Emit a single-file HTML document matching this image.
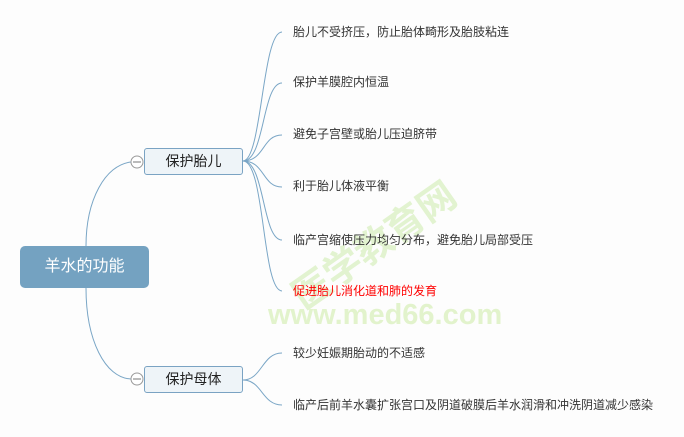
<!DOCTYPE html>
<html><head><meta charset="utf-8"><style>
body{margin:0;width:684px;height:437px;background:#fdfdfd;position:relative;overflow:hidden;font-family:"Liberation Sans","Noto Sans CJK SC",sans-serif;}
.t{position:absolute;font-size:12px;color:#333;white-space:nowrap;line-height:14px;}
.box{position:absolute;background:#eef4f8;border:1px solid #7aa3c3;border-radius:3px;font-size:14px;color:#222;text-align:center;}
</style></head><body>
<svg width="684" height="437" style="position:absolute;left:0;top:0">
<text x="262" y="262" transform="rotate(-35 360 220)" font-size="38" font-weight="bold" fill="#e2f3d0" font-family="Noto Sans CJK SC,sans-serif">医学教育网</text>
<text x="268" y="324" font-size="29" font-weight="bold" fill="#e2f3cc" font-family="Liberation Sans,sans-serif">www.med66.com</text>
<g fill="none" stroke="#7aa6c6" stroke-width="1">
<path d="M86,246 C86,200 105,165 131,162"/>
<path d="M86,288 C86,340 105,378 131,379"/>
<path d="M243,161 C262,161 262,32 282,32"/>
<path d="M243,161 C265,161 262,83 282,83"/>
<path d="M243,161 C265,161 262,135 282,135"/>
<path d="M243,161 C265,161 262,187 282,187"/>
<path d="M243,161 C265,161 262,240 282,240"/>
<path d="M243,161 C265,161 262,291 282,291"/>
<path d="M243,380 C262,380 262,353 282,353"/>
<path d="M243,380 C262,380 262,405 282,405"/>
</g>
<g fill="#fff" stroke="#999">
<circle cx="137" cy="162" r="6"/><circle cx="137" cy="379" r="6"/>
</g>
<line x1="133" y1="162" x2="141" y2="162" stroke="#777"/>
<line x1="133" y1="379" x2="141" y2="379" stroke="#777"/>
</svg>
<div style="position:absolute;left:20px;top:246px;width:129px;height:42px;background:#74a2c1;border-radius:5px;color:#fff;font-size:16px;line-height:42px;text-align:center">羊水的功能</div>
<div class="box" style="left:144px;top:148px;width:97px;height:25px;line-height:25px">保护胎儿</div>
<div class="box" style="left:144px;top:366px;width:97px;height:25px;line-height:25px">保护母体</div>
<div class="t" style="left:293px;top:25px">胎儿不受挤压，防止胎体畸形及胎肢粘连</div>
<div class="t" style="left:293px;top:75px">保护羊膜腔内恒温</div>
<div class="t" style="left:293px;top:127px">避免子宫壁或胎儿压迫脐带</div>
<div class="t" style="left:293px;top:179px">利于胎儿体液平衡</div>
<div class="t" style="left:293px;top:233px">临产宫缩使压力均匀分布，避免胎儿局部受压</div>
<div class="t" style="left:293px;top:284px;color:#f00">促进胎儿消化道和肺的发育</div>
<div class="t" style="left:293px;top:346px">较少妊娠期胎动的不适感</div>
<div class="t" style="left:293px;top:398px">临产后前羊水囊扩张宫口及阴道破膜后羊水润滑和冲洗阴道减少感染</div>
</body></html>
